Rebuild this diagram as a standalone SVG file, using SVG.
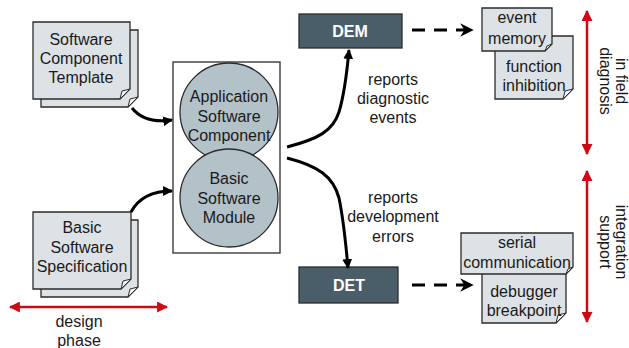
<svg xmlns="http://www.w3.org/2000/svg" width="629" height="348" viewBox="0 0 629 348">
<style>
text{font-family:"Liberation Sans",Arial,sans-serif;font-size:16px;fill:#1a1a1a;text-anchor:middle}
.doc{fill:#dde2e6;stroke:#2b2b2b;stroke-width:1.3}
.fold{fill:#f2f4f5;stroke:#2b2b2b;stroke-width:1}
.circ{fill:#b3c1c9;stroke:#2b2b2b;stroke-width:1.3}
.blk{fill:#4a5e6a;stroke:#2b2b2b;stroke-width:1.3}
.blkt{fill:#ffffff;font-weight:bold}
.con{fill:none;stroke:#000;stroke-width:3}
.dash{fill:none;stroke:#000;stroke-width:3;stroke-dasharray:13 9}
.red{fill:none;stroke:#cc0a14;stroke-width:2.5}
</style>
<defs>
<marker id="ah" viewBox="0 0 10 10" refX="9" refY="5" markerWidth="3.3" markerHeight="3.3" orient="auto" markerUnits="strokeWidth">
<path d="M0,0 L10,5 L0,10 Z" fill="#000"/>
</marker>
<marker id="ch" viewBox="0 0 10 10" refX="8" refY="5" markerWidth="4.5" markerHeight="4.5" orient="auto" markerUnits="strokeWidth">
<path d="M0,0 L10,5 L0,10 L3,5 Z" fill="#000"/>
</marker>
<marker id="rh" viewBox="0 0 10 10" refX="9" refY="5" markerWidth="4.4" markerHeight="4.4" orient="auto-start-reverse" markerUnits="strokeWidth">
<path d="M0,0 L10,5 L0,10 Z" fill="#cc0a14"/>
</marker>
</defs>

<g id="sct">
<path class="doc" d="M41,30 H138 V97 L128,107 H41 Z"/>
<path class="fold" d="M138,97 L128,107 L130,99 Z"/>
<path class="doc" d="M33,22 H130 V89 L120,99 H33 Z"/>
<path class="fold" d="M130,89 L120,99 L122,91 Z"/>
<text x="81" y="45">Software</text>
<text x="81" y="64">Component</text>
<text x="81" y="83">Template</text>
</g>

<g id="bss">
<path class="doc" d="M41,220 H138 V287 L128,297 H41 Z"/>
<path class="fold" d="M138,287 L128,297 L130,289 Z"/>
<path class="doc" d="M33,212 H131 V279 L121,289 H33 Z"/>
<path class="fold" d="M131,279 L121,289 L123,281 Z"/>
<text x="82" y="233">Basic</text>
<text x="82" y="253">Software</text>
<text x="82" y="272">Specification</text>
</g>

<g id="container">
<rect x="173" y="62" width="107" height="191" fill="#ffffff" stroke="#2b2b2b" stroke-width="1.3"/>
</g>

<g id="asc">
<circle class="circ" cx="229" cy="112" r="49"/>
<text x="229" y="102">Application</text>
<text x="229" y="122">Software</text>
<text x="229" y="141">Component</text>
</g>

<g id="bsm">
<circle class="circ" cx="229" cy="198" r="49"/>
<text x="229" y="184">Basic</text>
<text x="229" y="204">Software</text>
<text x="229" y="223">Module</text>
</g>

<g id="dem">
<rect class="blk" x="299" y="14" width="103" height="34"/>
<text class="blkt" x="350" y="37">DEM</text>
</g>

<g id="det">
<rect class="blk" x="299" y="267" width="99" height="36"/>
<text class="blkt" x="349" y="291">DET</text>
</g>

<g id="fi">
<path class="doc" d="M495,36 H573 V89 L563,99 H495 Z"/>
<path class="fold" d="M573,89 L563,99 L565,91 Z"/>
<text x="534" y="72">function</text>
<text x="534" y="91">inhibition</text>
</g>

<g id="em">
<path class="doc" d="M482,8 H552 V44 L545,51 H482 Z"/>
<path class="fold" d="M552,44 L545,51 L547,46 Z"/>
<text x="517" y="23">event</text>
<text x="517" y="44">memory</text>
</g>

<g id="db">
<path class="doc" d="M482,266 H566 V313 L556,323 H482 Z"/>
<path class="fold" d="M566,313 L556,323 L558,315 Z"/>
<text x="524" y="297">debugger</text>
<text x="524" y="316">breakpoint</text>
</g>

<g id="sc">
<path class="doc" d="M461,233 H573 V267 L566,274 H461 Z"/>
<path class="fold" d="M573,267 L566,274 L568,269 Z"/>
<text x="517" y="248">serial</text>
<text x="517" y="268">communication</text>
</g>

<g id="connectors">
<path class="con" marker-end="url(#ah)" d="M132,108 C140,118 152,123 172,120"/>
<path class="con" marker-end="url(#ah)" d="M131,212 C138,199 150,191 172,191"/>
<path class="con" marker-end="url(#ah)" d="M287,147 C318,139 333,131 339,112 C345,92 347,72 349,50"/>
<path class="con" marker-end="url(#ah)" d="M287,158 C318,166 333,176 339,198 C344,222 346,246 348,268"/>
<path class="dash" marker-end="url(#ch)" d="M412,30 H471"/>
<path class="dash" marker-end="url(#ch)" d="M412,285 H471"/>
<path class="red" marker-start="url(#rh)" marker-end="url(#rh)" d="M10,307 H167"/>
<path class="red" marker-start="url(#rh)" marker-end="url(#rh)" d="M587,11 V154"/>
<path class="red" marker-start="url(#rh)" marker-end="url(#rh)" d="M587,171 V322"/>
</g>

<g id="labels">
<text x="393" y="85">reports</text>
<text x="393" y="104">diagnostic</text>
<text x="393" y="123">events</text>
<text x="393" y="203">reports</text>
<text x="393" y="222">development</text>
<text x="393" y="242">errors</text>
<text x="79" y="327">design</text>
<text x="79" y="346">phase</text>
<text transform="translate(612,81) rotate(90)"><tspan x="0" y="-4">in field</tspan><tspan x="0" y="12">diagnosis</tspan></text>
<text transform="translate(612,242) rotate(90)"><tspan x="0" y="-4">integration</tspan><tspan x="0" y="12">support</tspan></text>
</g>
</svg>
